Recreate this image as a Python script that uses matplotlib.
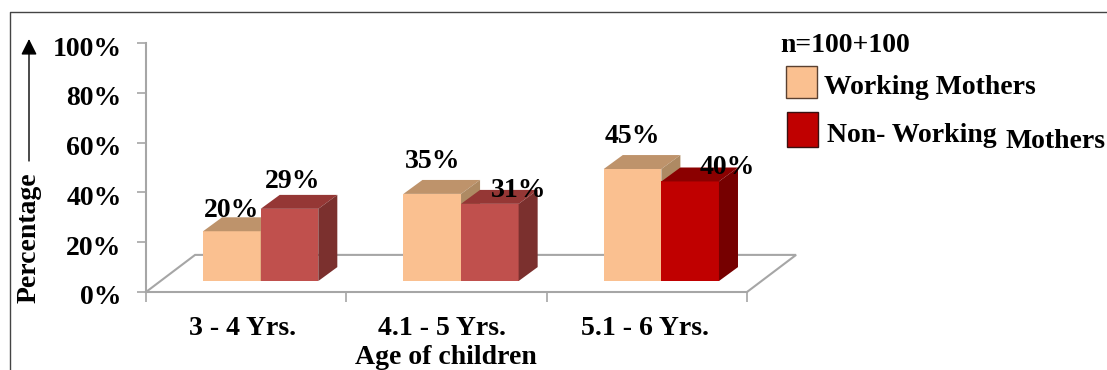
#!/usr/bin/env python3
"""
Age of children by mothers' working status - pseudo 3D column chart
"""
import matplotlib
matplotlib.use('Agg')
import matplotlib.pyplot as plt
from matplotlib.lines import Line2D
from matplotlib.patches import Polygon, Rectangle
from matplotlib.transforms import Affine2D

plt.rcParams['font.family'] = ['Liberation Serif', 'DejaVu Serif']
plt.rcParams['font.weight'] = 'bold'

# data
age_groups = ['3 - 4 Yrs.', '4.1 - 5 Yrs.', '5.1 - 6 Yrs.']
working = [20, 35, 45]
non_working = [29, 31, 40]
y_ticks = [0, 20, 40, 60, 80, 100]
y_tick_labels = ['0%', '20%', '40%', '60%', '80%', '100%']

W, H = 1107, 370
GRAY = '#A6A6A6'
FS = 20

# one colour triple per bar: front, top, side
peach = ('#FAC090', '#BE936B', '#AE8A63')
brick = ('#C0504D', '#953735', '#7B302E')
crimson = ('#C00000', '#8B0000', '#760000')
non_working_colors = [brick, brick, crimson]

# label shift from the top-centre of each bar, in pixels
working_shift = [(0, 21), (0, 32), (0, 32)]
non_working_shift = [(3, 27), (29, 13), (37, 14)]


def px(x, y):
    return x / W, 1 - y / H


fig = plt.figure(figsize=(W / 100, H / 100), dpi=100)
left, bottom = px(146, 292)
right, top = px(747, 43)
ax = fig.add_axes([left, bottom, right - left, top - bottom])
ax.set_xlim(0, 3)
ax.set_ylim(0, 100)
ax.patch.set_alpha(0)

for name in ['top', 'right']:
    ax.spines[name].set_visible(False)
for name in ['left', 'bottom']:
    ax.spines[name].set_color(GRAY)
    ax.spines[name].set_linewidth(1.5)

ax.set_yticks(y_ticks)
ax.set_yticklabels(y_tick_labels, fontsize=FS)
ax.tick_params(axis='y', length=6.5, width=1.2, color=GRAY, pad=11)
# percent labels sit a little below their ticks
for lab in ax.get_yticklabels():
    lab.set_transform(lab.get_transform() + Affine2D().translate(0, -3))
ax.set_xticks([0, 1, 2, 3])
ax.set_xticklabels([])
ax.tick_params(axis='x', which='major', length=7, width=1.2, color=GRAY)
ax.set_xticks([0.48, 1.48, 2.49], age_groups, minor=True, fontsize=FS)
ax.tick_params(axis='x', which='minor', length=0, pad=17)

# floor outline
floor_dx, floor_dy = 0.245, 14.9
ax.add_patch(Polygon([(0, 0), (floor_dx, floor_dy), (3 + floor_dx, floor_dy), (3, 0)],
                     closed=False, fill=False, edgecolor=GRAY, linewidth=1.5,
                     clip_on=False, zorder=1))

# bar geometry in axis units
bar_w = 0.2875
base = 4.4
depth_x, depth_y = 0.095, 5.6


def draw_bar(x, value, colors, zorder):
    front, roof, side = colors
    y1 = base + value
    ax.add_patch(Rectangle((x, base), bar_w, value, facecolor=front,
                           edgecolor='none', zorder=zorder))
    ax.add_patch(Polygon([(x, y1), (x + depth_x, y1 + depth_y),
                          (x + bar_w + depth_x, y1 + depth_y), (x + bar_w, y1)],
                         facecolor=roof, edgecolor='none', zorder=zorder))
    ax.add_patch(Polygon([(x + bar_w, base), (x + bar_w + depth_x, base + depth_y),
                          (x + bar_w + depth_x, y1 + depth_y), (x + bar_w, y1)],
                         facecolor=side, edgecolor='none', zorder=zorder))


for i in range(len(age_groups)):
    x0 = i + 0.285
    draw_bar(x0, working[i], peach, 2 + i)
    draw_bar(x0 + bar_w, non_working[i], non_working_colors[i], 2.5 + i)

    ax.annotate(f'{working[i]}%', (x0 + bar_w / 2, base + working[i]),
                xytext=working_shift[i], textcoords='offset pixels',
                ha='center', va='center', fontsize=FS, zorder=10)
    ax.annotate(f'{non_working[i]}%', (x0 + 1.5 * bar_w, base + non_working[i]),
                xytext=non_working_shift[i], textcoords='offset pixels',
                ha='center', va='center', fontsize=FS, zorder=10)

# axis titles
tx, ty = px(29, 238)
fig.text(tx, ty, 'Percentage', rotation=90, ha='center', va='center', fontsize=FS)
tx, ty = px(446, 357)
fig.text(tx, ty, 'Age of children', ha='center', va='center', fontsize=FS)

# hand drawn arrow above the y title
ax_arrow = fig.add_axes([0, 0, 1, 1])
ax_arrow.set_xlim(0, W)
ax_arrow.set_ylim(H, 0)
ax_arrow.axis('off')
ax_arrow.annotate('', xy=(29, 39), xytext=(29, 161),
                  arrowprops=dict(arrowstyle='-|>', color='black', lw=1.0,
                                  mutation_scale=24, shrinkA=0, shrinkB=0))

# outer frame, open on the right and at the bottom
ax_arrow.add_line(Line2D([10, 10, W], [H, 11.5, 11.5], color='#444444', lw=1.0))

# legend
ax_arrow.add_patch(Rectangle((785.5, 66), 31, 32, facecolor=peach[0],
                             edgecolor='#5A4030', lw=1.0))
ax_arrow.add_patch(Rectangle((787, 111.5), 31, 35, facecolor=crimson[0],
                             edgecolor='#3A1010', lw=1.0))
ax_arrow.text(780, 46, 'n=100+100', ha='left', va='center', fontsize=FS)
ax_arrow.text(824, 88, 'Working Mothers', ha='left', va='center', fontsize=FS)
ax_arrow.text(827, 135, 'Non- Working', ha='left', va='center', fontsize=FS)
ax_arrow.text(1005, 141, 'Mothers', ha='left', va='center', fontsize=FS)

fig.savefig('out.png', dpi=100)
plt.close(fig)
